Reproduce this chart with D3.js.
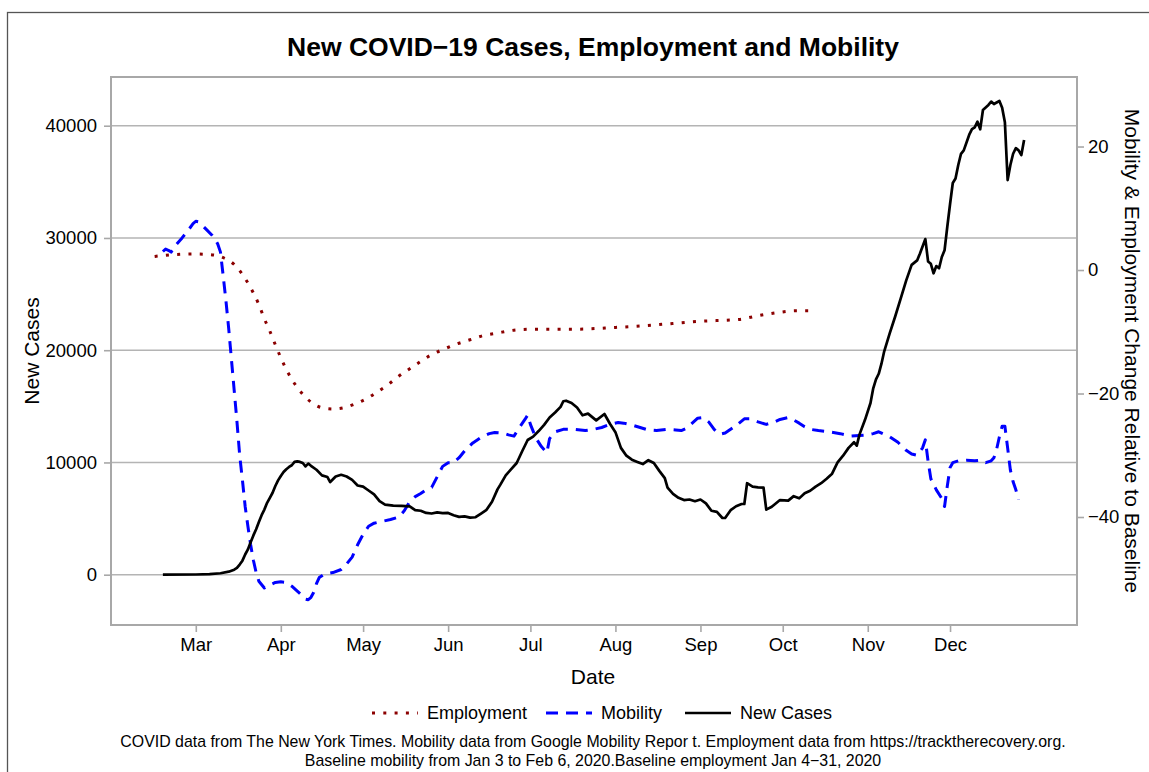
<!DOCTYPE html>
<html><head><meta charset="utf-8">
<script src="https://cdn.jsdelivr.net/npm/d3@7"></script>
<style>
body{margin:0;background:#fff}
svg{display:block}
text{font-family:"Liberation Sans",Arial,Helvetica,sans-serif;fill:#000}
</style>
</head><body>
<svg id="chart" width="1149" height="772"></svg>
<script>
// ---------------- data ----------------
const monthTicks = ["03-01","04-01","05-01","06-01","07-01","08-01","09-01","10-01","11-01","12-01"];
const casesTicks = [0, 10000, 20000, 30000, 40000];
const changeTicks = [-40, -20, 0, 20];

const employmentDates = ["02-15","02-22","03-01","03-08","03-11","03-15","03-18","03-20","03-22","03-24","03-26","03-28","03-30","04-01","04-03","04-05","04-07","04-10","04-13","04-16","04-20","04-24","04-28","05-02","05-06","05-10","05-14","05-18","05-22","05-26","05-30","06-04","06-09","06-14","06-19","06-24","07-01","07-15","08-01","08-15","09-01","09-15","09-22","09-29","10-06","10-13"];
const employmentValues = [2.2,2.5,2.6,2.4,2.0,0.9,-0.7,-2.1,-3.7,-5.6,-7.9,-9.9,-12.1,-14.2,-16.1,-17.7,-19.0,-20.6,-21.7,-22.3,-22.5,-22.3,-21.7,-20.9,-19.8,-18.6,-17.2,-16.0,-14.8,-13.7,-12.9,-12.0,-11.3,-10.6,-10.2,-9.8,-9.6,-9.6,-9.3,-8.9,-8.3,-8.0,-7.4,-6.9,-6.6,-6.6];

const mobilityDates = ["02-18","02-19","02-20","02-21","02-23","02-25","02-27","02-29","03-01","03-02","03-03","03-05","03-07","03-08","03-09","03-10","03-11","03-12","03-13","03-14","03-15","03-16","03-17","03-18","03-19","03-20","03-21","03-22","03-23","03-24","03-26","03-28","03-30","04-01","04-03","04-05","04-07","04-09","04-10","04-11","04-12","04-13","04-14","04-15","04-17","04-20","04-23","04-25","04-27","04-29","05-01","05-03","05-05","05-08","05-11","05-14","05-16","05-18","05-20","05-22","05-24","05-26","05-28","05-30","06-01","06-03","06-05","06-07","06-10","06-13","06-16","06-18","06-21","06-23","06-25","06-27","06-29","06-30","07-01","07-03","07-05","07-07","07-08","07-10","07-13","07-17","07-21","07-24","07-27","07-30","08-02","08-04","08-07","08-10","08-13","08-16","08-20","08-23","08-25","08-27","08-29","08-31","09-02","09-04","09-06","09-08","09-10","09-12","09-14","09-17","09-19","09-22","09-25","09-28","09-30","10-03","10-05","10-07","10-09","10-11","10-14","10-18","10-22","10-26","10-29","11-01","11-03","11-05","11-07","11-09","11-12","11-15","11-17","11-19","11-21","11-22","11-23","11-24","11-26","11-28","11-29","11-30","12-01","12-02","12-04","12-07","12-10","12-12","12-14","12-16","12-17","12-18","12-19","12-20","12-21","12-22","12-23","12-24","12-25","12-26"];
const mobilityValues = [3.0,3.4,3.2,2.9,4.2,5.2,6.3,7.5,7.9,7.8,7.4,6.5,5.6,5.0,4.2,2.9,-1.0,-5.0,-9.5,-14.5,-19.5,-24.5,-30.0,-34.0,-38.3,-41.5,-44.5,-47.0,-49.0,-50.4,-51.5,-51.0,-50.6,-50.5,-50.6,-51.2,-52.0,-52.8,-53.3,-53.4,-53.0,-52.2,-50.8,-49.8,-49.2,-49.0,-48.5,-47.6,-46.5,-44.5,-42.8,-41.5,-41.0,-40.7,-40.4,-40.0,-39.0,-37.5,-36.7,-36.2,-35.6,-35.2,-33.5,-31.8,-31.2,-31.2,-30.4,-29.3,-28.0,-27.1,-26.5,-26.3,-26.4,-26.7,-26.9,-25.5,-24.2,-23.5,-25.0,-27.2,-28.6,-29.6,-27.3,-26.2,-25.8,-25.8,-26.0,-25.8,-25.5,-25.0,-24.7,-24.8,-25.1,-25.5,-25.9,-26.0,-25.8,-25.9,-26.0,-25.6,-24.8,-24.0,-23.9,-24.6,-25.8,-26.6,-26.4,-25.8,-25.2,-24.1,-24.1,-24.6,-25.0,-24.6,-24.2,-23.9,-24.3,-24.8,-25.4,-25.8,-26.0,-26.2,-26.5,-26.9,-26.8,-26.7,-26.5,-26.2,-26.6,-27.0,-27.9,-29.2,-29.8,-30.0,-28.8,-27.5,-31.0,-33.8,-35.6,-37.0,-38.3,-35.0,-32.0,-31.2,-30.9,-30.8,-30.9,-30.8,-31.2,-30.9,-30.4,-29.0,-27.0,-25.3,-25.3,-28.8,-32.4,-34.3,-35.6,-37.2];

const casesDates = ["02-18","03-01","03-06","03-10","03-13","03-15","03-16","03-17","03-18","03-19","03-20","03-21","03-22","03-23","03-24","03-25","03-26","03-27","03-28","03-29","03-30","03-31","04-01","04-02","04-03","04-04","04-05","04-06","04-07","04-08","04-09","04-10","04-11","04-12","04-14","04-16","04-18","04-19","04-20","04-21","04-23","04-25","04-27","04-29","05-01","05-03","05-05","05-07","05-09","05-12","05-15","05-18","05-20","05-22","05-24","05-26","05-28","05-30","06-01","06-03","06-05","06-07","06-09","06-11","06-13","06-15","06-17","06-19","06-20","06-22","06-24","06-26","06-28","06-30","07-02","07-04","07-06","07-08","07-10","07-12","07-13","07-14","07-16","07-18","07-20","07-22","07-25","07-28","07-30","08-01","08-03","08-05","08-07","08-09","08-11","08-13","08-15","08-17","08-19","08-20","08-22","08-24","08-26","08-28","08-30","09-01","09-03","09-05","09-07","09-09","09-10","09-12","09-14","09-16","09-17","09-18","09-20","09-22","09-24","09-25","09-27","09-30","10-03","10-05","10-07","10-09","10-11","10-13","10-15","10-17","10-19","10-21","10-23","10-25","10-27","10-28","10-29","10-31","11-02","11-03","11-04","11-05","11-06","11-07","11-09","11-11","11-13","11-15","11-17","11-19","11-20","11-22","11-23","11-24","11-25","11-26","11-27","11-28","11-29","11-30","12-01","12-02","12-03","12-04","12-05","12-06","12-08","12-09","12-10","12-11","12-12","12-13","12-15","12-16","12-17","12-19","12-20","12-21","12-22","12-23","12-24","12-25","12-26","12-27","12-28"];
const casesValues = [0,20,60,130,270,450,600,900,1250,1800,2250,2900,3500,4050,4700,5300,5800,6400,6850,7300,7900,8400,8800,9150,9400,9600,9750,10050,10100,10050,9950,9650,9900,9700,9350,8850,8700,8250,8500,8750,8900,8750,8450,7950,7850,7500,7150,6550,6250,6150,6130,6080,5750,5700,5500,5450,5550,5480,5500,5300,5150,5200,5080,5120,5450,5780,6500,7600,8000,8850,9400,9950,11000,12000,12300,12800,13350,14000,14450,14950,15450,15500,15300,14900,14200,14350,13750,14320,13450,12700,11300,10600,10250,10050,9860,10200,9950,9250,8600,7750,7200,6850,6650,6700,6550,6700,6350,5700,5600,5050,5050,5750,6100,6300,6300,8150,7850,7780,7750,5800,6050,6650,6600,7000,6800,7250,7480,7850,8150,8550,9000,10000,10600,11300,11800,11500,12500,13800,15300,16600,17400,17900,18800,19900,21500,23000,24600,26200,27600,28000,28600,29900,27900,27700,26850,27500,27300,28300,28900,31000,33000,34900,35300,36500,37500,37800,39200,39700,39860,40360,39680,41400,41850,42150,41930,42200,41600,40300,35160,36500,37500,38000,37800,37390,38730];

// ---------------- layout ----------------
const W = 1149, H = 772;
const P = {left: 111, right: 1077, top: 77, bottom: 625};
const parse = s => d3.timeParse("%Y-%m-%d")("2020-" + s);

const svg = d3.select("#chart");

// outer frame (partly cropped in the reference)
svg.append("rect").attr("x", 7.5).attr("y", 12.5).attr("width", 1400).attr("height", 1000)
  .attr("fill", "none").attr("stroke", "#555").attr("stroke-width", 1.3);

const x = d3.scaleTime()
  .domain([new Date(2020, 0, 30, 2), new Date(2021, 0, 16, 7)])
  .range([P.left, P.right]);
const yCases = d3.scaleLinear().domain([-4481, 44340]).range([P.bottom, P.top]);
const yChange = d3.scaleLinear().domain([-57.49, 31.26]).range([P.bottom, P.top]);

const gridCol = "#b4b4b4", axisCol = "#a8a8a8";

// grid lines
svg.append("g").selectAll("line").data(casesTicks).join("line")
  .attr("x1", P.left).attr("x2", P.right)
  .attr("y1", d => yCases(d)).attr("y2", d => yCases(d))
  .attr("stroke", gridCol).attr("stroke-width", 1.6);

// panel border
svg.append("rect").attr("x", P.left).attr("y", P.top)
  .attr("width", P.right - P.left).attr("height", P.bottom - P.top)
  .attr("fill", "none").attr("stroke", axisCol).attr("stroke-width", 2);

function styleAxis(g, size) {
  g.select(".domain").remove();
  g.selectAll(".tick line").attr("stroke", axisCol).attr("stroke-width", 1.6);
  g.selectAll(".tick text").attr("fill", "#1a1a1a").style("font-size", size + "px")
    .style("font-family", '"Liberation Sans",Arial,sans-serif');
}

// x axis
svg.append("g").attr("transform", `translate(0,${P.bottom})`)
  .call(d3.axisBottom(x).tickValues(monthTicks.map(parse)).tickFormat(d3.timeFormat("%b"))
    .tickSize(7).tickPadding(6))
  .call(g => styleAxis(g, 18.5));

// left axis
svg.append("g").attr("transform", `translate(${P.left},0)`)
  .call(d3.axisLeft(yCases).tickValues(casesTicks).tickFormat(d3.format("d")).tickSize(7).tickPadding(7))
  .call(g => styleAxis(g, 18.5));

// right axis
svg.append("g").attr("transform", `translate(${P.right},0)`)
  .call(d3.axisRight(yChange).tickValues(changeTicks).tickFormat(d => d < 0 ? "\u2212" + Math.abs(d) : d)
    .tickSize(7).tickPadding(4))
  .call(g => styleAxis(g, 18.5));

// series
const employment = employmentDates.map((d, i) => ({date: parse(d), v: employmentValues[i]}));
const mobility = mobilityDates.map((d, i) => ({date: parse(d), v: mobilityValues[i]}));
const cases = casesDates.map((d, i) => ({date: parse(d), v: casesValues[i]}));

const clip = svg.append("clipPath").attr("id", "clip").append("rect")
  .attr("x", P.left).attr("y", P.top).attr("width", P.right - P.left).attr("height", P.bottom - P.top);
const plot = svg.append("g").attr("clip-path", "url(#clip)");

const empStyle = {stroke: "#8b0000", width: 3, dash: "3 8.3"};
const mobStyle = {stroke: "#0000ff", width: 3, dash: "12 8"};
const casStyle = {stroke: "#000000", width: 2.7, dash: null};

plot.append("path").datum(employment)
  .attr("d", d3.line().x(d => x(d.date)).y(d => yChange(d.v)).curve(d3.curveMonotoneX))
  .attr("fill", "none").attr("stroke", empStyle.stroke).attr("stroke-width", empStyle.width)
  .attr("stroke-dasharray", empStyle.dash);

plot.append("path").datum(mobility)
  .attr("d", d3.line().x(d => x(d.date)).y(d => yChange(d.v)))
  .attr("fill", "none").attr("stroke", mobStyle.stroke).attr("stroke-width", mobStyle.width)
  .attr("stroke-dasharray", mobStyle.dash).attr("stroke-linejoin", "round");

plot.append("path").datum(cases)
  .attr("d", d3.line().x(d => x(d.date)).y(d => yCases(d.v)))
  .attr("fill", "none").attr("stroke", casStyle.stroke).attr("stroke-width", casStyle.width)
  .attr("stroke-linejoin", "round");

// titles
svg.append("text").attr("x", 593).attr("y", 56).attr("text-anchor", "middle")
  .style("font-size", "26.5px").style("font-weight", "bold")
  .text("New COVID\u221219 Cases, Employment and Mobility");

svg.append("text").attr("x", 593).attr("y", 684).attr("text-anchor", "middle")
  .style("font-size", "21px").text("Date");

svg.append("text").attr("transform", `translate(32,351) rotate(-90)`)
  .attr("text-anchor", "middle").attr("dy", "0.35em")
  .style("font-size", "21px").text("New Cases");

svg.append("text").attr("transform", `translate(1132,351) rotate(90)`)
  .attr("text-anchor", "middle").attr("dy", "0.35em")
  .style("font-size", "21px").text("Mobility & Employment Change Relative to Baseline");

// legend
const legendItems = [
  {label: "Employment", s: empStyle, x0: 372},
  {label: "Mobility", s: mobStyle, x0: 546},
  {label: "New Cases", s: casStyle, x0: 685}
];
const lg = svg.append("g");
legendItems.forEach(it => {
  lg.append("line").attr("x1", it.x0).attr("x2", it.x0 + 46).attr("y1", 713).attr("y2", 713)
    .attr("stroke", it.s.stroke).attr("stroke-width", it.s.width)
    .attr("stroke-dasharray", it.s.dash);
  lg.append("text").attr("x", it.x0 + 55).attr("y", 713).attr("dy", "0.35em")
    .style("font-size", "18px").text(it.label);
});

// caption
const captionLines = [
  "COVID data from The New York Times. Mobility data from Google Mobility Repor t. Employment data from https://tracktherecovery.org.",
  "Baseline mobility from Jan 3 to Feb 6, 2020.Baseline employment Jan 4\u221231, 2020"
];
svg.append("g").selectAll("text").data(captionLines).join("text")
  .attr("x", 593).attr("y", (d, i) => 741 + i * 19).attr("dy", "0.35em")
  .attr("text-anchor", "middle").style("font-size", "15.9px").text(d => d);
</script>
</body></html>
